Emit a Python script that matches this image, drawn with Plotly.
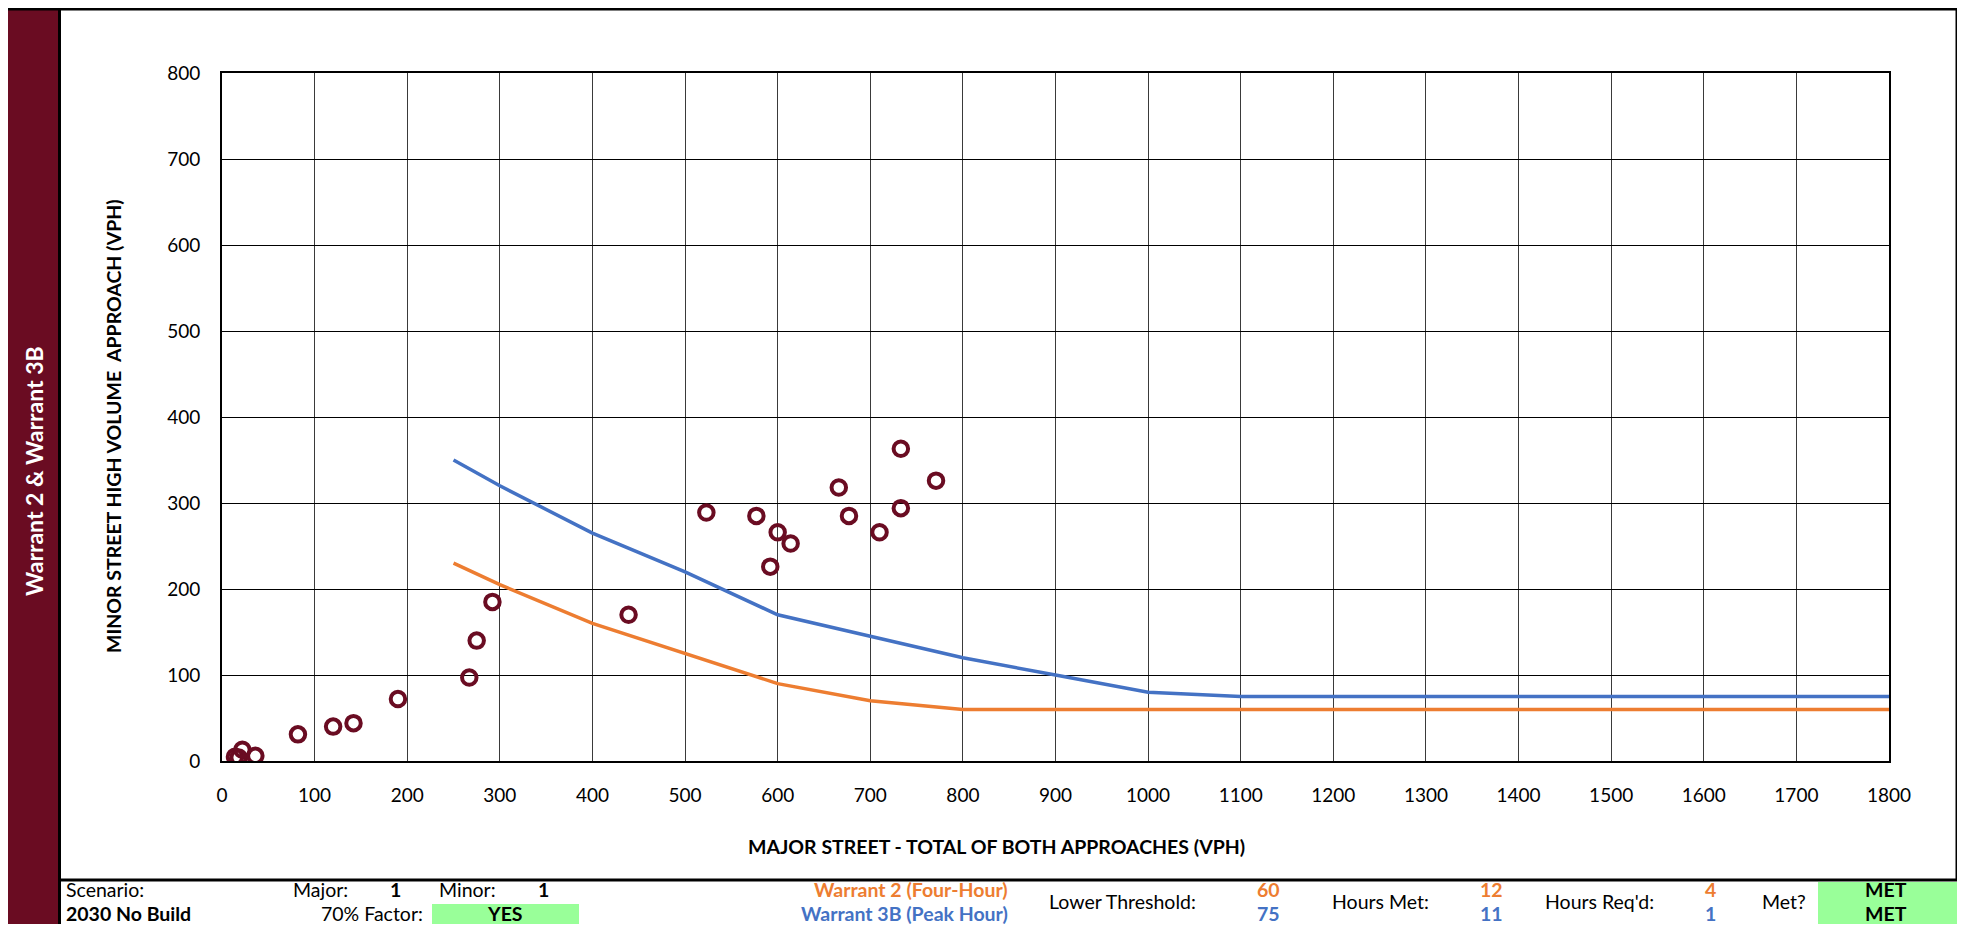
import plotly.graph_objects as go

# ---- data ----
major_vol = [14, 18, 22, 36, 82, 120, 142, 190, 267, 275, 292, 439, 523, 577, 592, 600, 614, 666, 677, 710, 733, 733, 771]
minor_vol = [5, 4, 13, 6, 31, 40, 44, 72, 97, 140, 185, 170, 289, 285, 226, 266, 253, 318, 285, 266, 363, 294, 326]

w2_major = [250, 300, 400, 500, 600, 700, 800, 1800]
w2_minor = [230, 205, 160, 125, 90, 70, 60, 60]

w3_major = [250, 300, 400, 500, 600, 700, 800, 900, 1000, 1100, 1800]
w3_minor = [350, 320, 265, 220, 170, 145, 120, 100, 80, 75, 75]

x_ticks = list(range(0, 1801, 100))
y_ticks = list(range(0, 801, 100))

# page is 1965x932; the default body margin of 8px surrounds the figure
OFF = 8
W, H = 1965 - 2 * OFF, 932 - 2 * OFF
MAROON = "#6A0C22"
ORANGE = "#ED7D31"
BLUE = "#4472C4"
GREEN = "#99FF99"
FONT = "Lato"

def px(x):
    return (x - OFF) / W

def py(y):
    return 1 - (y - OFF) / H

fig = go.Figure()
fig.add_trace(go.Scatter(x=w2_major, y=w2_minor, mode="lines",
                         line=dict(color=ORANGE, width=3.5), hoverinfo="skip", showlegend=False))
fig.add_trace(go.Scatter(x=w3_major, y=w3_minor, mode="lines",
                         line=dict(color=BLUE, width=3.5), hoverinfo="skip", showlegend=False))
fig.add_trace(go.Scatter(x=major_vol, y=minor_vol, mode="markers",
                         marker=dict(symbol="circle-open", size=14.5, color=MAROON,
                                     line=dict(width=4, color=MAROON)),
                         showlegend=False))

axis_common = dict(showgrid=True, gridwidth=1,
                   showline=True, linecolor="#000000", linewidth=2, mirror=True,
                   zeroline=False, ticks="", automargin=False,
                   tickfont=dict(family=FONT, size=19, color="#000000"))

fig.update_xaxes(range=[0, 1800], tickvals=x_ticks, ticktext=[str(v) for v in x_ticks],
                 gridcolor="#3a3a3a",
                 domain=[px(222), px(1889)], ticklabelstandoff=16, **axis_common)
fig.update_yaxes(range=[0, 800], tickvals=y_ticks, ticktext=[str(v) for v in y_ticks],
                 gridcolor="#000000",
                 domain=[py(761), py(73)], ticklabelstandoff=16, **axis_common)

shapes = []
def rect(x0, x1, y0, y1, color):
    shapes.append(dict(type="rect", xref="paper", yref="paper", x0=px(x0), x1=px(x1),
                       y0=py(y1), y1=py(y0), fillcolor=color, line=dict(width=0), layer="below"))

def line(x0, y0, x1, y1, width=3):
    shapes.append(dict(type="line", xref="paper", yref="paper", x0=px(x0), x1=px(x1),
                       y0=py(y0), y1=py(y1), line=dict(color="black", width=width)))

rect(0, 59, 0, 940, MAROON)          # sidebar
rect(432, 579, 904, 940, GREEN)      # YES box
rect(1818, 1957, 882, 940, GREEN)    # MET box
line(0, 9, 1965, 9)                  # top border
line(59.5, 0, 59.5, 940)             # sidebar edge
line(1957, 0, 1957, 881)             # right border
line(59, 880, 1965, 880)             # table separator
fig.update_layout(shapes=shapes)

ann = []
def txt(text, x, y, anchor="left", color="#000000", bold=False, size=19.5, angle=0):
    t = f"<b>{text}</b>" if bold else text
    ann.append(dict(text=t, x=px(x), y=py(y), xref="paper", yref="paper", showarrow=False,
                    xanchor=anchor, yanchor="middle", textangle=angle,
                    font=dict(family=FONT, size=size, color=color)))

# sidebar title
txt("Warrant 2 &amp; Warrant 3B", 34, 471, anchor="center", color="#FFFFFF", bold=True, size=23, angle=-90)
# axis titles
txt("MINOR STREET HIGH VOLUME  APPROACH (VPH)", 113, 426, anchor="center", bold=True, size=19.5, angle=-90)
txt("MAJOR STREET - TOTAL OF BOTH APPROACHES (VPH)", 996, 846, anchor="center", bold=True, size=19.5)

# table rows (kept inside the figure's lower edge)
row1, row2, mid = 889, 913, 901
txt("Scenario:", 64, row1)
txt("2030 No Build", 64, row2, bold=True)
txt("Major:", 350, row1, anchor="right")
txt("1", 395, row1, anchor="center", bold=True)
txt("Minor:", 437, row1)
txt("1", 543, row1, anchor="center", bold=True)
txt("70% Factor:", 425, row2, anchor="right")
txt("YES", 505, row2, anchor="center", bold=True)
txt("Warrant 2 (Four-Hour)", 1010, row1, anchor="right", color=ORANGE, bold=True)
txt("Warrant 3B (Peak Hour)", 1010, row2, anchor="right", color=BLUE, bold=True)
txt("Lower Threshold:", 1047, mid)
txt("60", 1268, row1, anchor="center", color=ORANGE, bold=True)
txt("75", 1268, row2, anchor="center", color=BLUE, bold=True)
txt("Hours Met:", 1330, mid)
txt("12", 1491, row1, anchor="center", color=ORANGE, bold=True)
txt("11", 1491, row2, anchor="center", color=BLUE, bold=True)
txt("Hours Req'd:", 1543, mid)
txt("4", 1710, row1, anchor="center", color=ORANGE, bold=True)
txt("1", 1710, row2, anchor="center", color=BLUE, bold=True)
txt("Met?", 1760, mid)
txt("MET", 1886, row1, anchor="center", bold=True)
txt("MET", 1886, row2, anchor="center", bold=True)

fig.update_layout(annotations=ann, width=W, height=H, autosize=False,
                  margin=dict(l=0, r=0, t=0, b=0, pad=0),
                  paper_bgcolor="white", plot_bgcolor="white",
                  font=dict(family=FONT, color="black"))

fig.write_html("out.html", config={"displayModeBar": False})
